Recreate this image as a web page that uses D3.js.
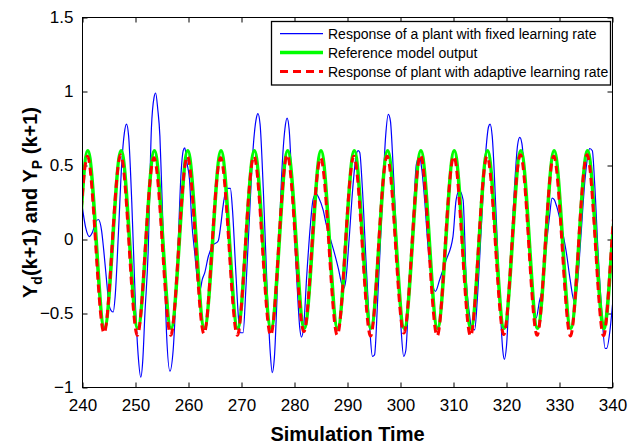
<!DOCTYPE html>
<html>
<head>
<meta charset="utf-8">
<script src="https://cdn.jsdelivr.net/npm/d3@7"></script>
<style>
  body { margin: 0; background: #fff; }
  text { font-family: "Liberation Sans", Arial, Helvetica, sans-serif; }
</style>
</head>
<body>
<div id="chart"></div>
<script>
// tick values
var xTicks = [240, 250, 260, 270, 280, 290, 300, 310, 320, 330, 340];
var yTicks = [-1, -0.5, 0, 0.5, 1, 1.5];

// reference model output (read at peaks, troughs and zero crossings)
var refTime = [239.43,
  241.00, 242.57, 244.14, 245.71,
  247.29, 248.86, 250.43, 252.00,
  253.57, 255.14, 256.71, 258.28,
  259.86, 261.43, 263.00, 264.57,
  266.14, 267.71, 269.28, 270.85,
  272.43, 274.00, 275.57, 277.14,
  278.71, 280.28, 281.85, 283.42,
  285.00, 286.57, 288.14, 289.71,
  291.28, 292.85, 294.42, 295.99,
  297.57, 299.14, 300.71, 302.28,
  303.85, 305.42, 306.99, 308.56,
  310.14, 311.71, 313.28, 314.85,
  316.42, 317.99, 319.56, 321.13,
  322.71, 324.28, 325.85, 327.42,
  328.99, 330.56, 332.13, 333.70,
  335.28, 336.85, 338.42, 339.99,
  341.56];
var refValue = [0,
  0.6, 0, -0.6, 0,
  0.6, 0, -0.6, 0,
  0.6, 0, -0.6, 0,
  0.6, 0, -0.6, 0,
  0.6, 0, -0.6, 0,
  0.6, 0, -0.6, 0,
  0.6, 0, -0.6, 0,
  0.6, 0, -0.6, 0,
  0.6, 0, -0.6, 0,
  0.6, 0, -0.6, 0,
  0.6, 0, -0.6, 0,
  0.6, 0, -0.6, 0,
  0.6, 0, -0.6, 0,
  0.6, 0, -0.6, 0,
  0.6, 0, -0.6, 0,
  0.6, 0, -0.6, 0,
  0.6];

// plant with adaptive learning rate (same time points)
var adaptiveValue = [0.03,
  0.56, -0.08, -0.63, 0.03,
  0.57, -0.08, -0.645, 0.03,
  0.55, -0.08, -0.645, 0.03,
  0.56, -0.08, -0.635, 0.03,
  0.55, -0.08, -0.645, 0.03,
  0.56, -0.08, -0.645, 0.03,
  0.57, -0.08, -0.62, 0.03,
  0.55, -0.08, -0.645, 0.03,
  0.56, -0.08, -0.65, 0.03,
  0.56, -0.08, -0.63, 0.03,
  0.57, -0.08, -0.65, 0.03,
  0.56, -0.08, -0.65, 0.03,
  0.56, -0.08, -0.64, 0.03,
  0.57, -0.08, -0.645, 0.03,
  0.56, -0.08, -0.65, 0.03,
  0.57, -0.08, -0.645, 0.05,
  0.57];

// plant with fixed learning rate
var fixedTime = [240.0, 240.6, 241.3, 241.9, 242.5, 243.0, 243.6, 244.0, 244.6, 245.0,
  245.4, 245.8, 246.15, 246.8, 247.4, 247.9, 248.3, 248.7, 249.3, 250.0,
  250.5, 251.0, 251.4, 251.75, 252.4, 253.0, 253.5, 253.8, 254.2, 254.6,
  254.9, 255.4, 255.85, 256.5, 257.1, 258.0, 258.6, 259.0, 259.3, 259.7,
  260.2, 260.6, 261.2, 261.7, 262.1, 262.6, 263.1, 263.7, 264.6, 265.6,
  266.1, 266.5, 267.2, 267.9, 268.3, 268.9, 269.5, 269.8, 270.3, 270.8,
  271.5, 272.2, 272.8, 273.1, 273.5, 274.1, 274.8, 275.4, 275.8, 276.2,
  276.9, 277.6, 278.2, 278.6, 279.0, 279.6, 280.4, 281.0, 281.3, 281.7,
  282.3, 283.0, 283.5, 284.1, 284.6, 285.4, 286.0, 286.8, 287.6, 288.3,
  288.9, 289.3, 289.7, 290.3, 291.0, 291.6, 292.0, 292.3, 292.8, 293.5,
  294.2, 294.7, 295.1, 295.7, 296.5, 297.2, 297.7, 298.1, 298.6, 299.4,
  300.1, 300.6, 301.0, 301.6, 302.4, 303.0, 303.6, 304.0, 304.55, 305.2,
  305.8, 306.6, 307.4, 308.6, 309.9, 310.5, 311.1, 311.8, 312.4, 313.0,
  313.4, 314.0, 314.5, 315.2, 316.0, 316.6, 316.9, 317.3, 318.0, 318.8,
  319.3, 319.6, 320.0, 320.7, 321.5, 322.1, 322.5, 322.9, 323.7, 324.4,
  325.0, 325.6, 326.2, 326.9, 327.5, 328.1, 328.6, 329.0, 329.5, 330.0,
  330.7, 331.3, 332.0, 332.8, 333.3, 334.0, 334.8, 335.4, 335.7, 336.2,
  336.6, 337.3, 338.0, 338.6, 338.9, 339.6, 340.0];
var fixedValue = [0.21, 0.08, 0.02, 0.05, 0.12, 0.135, 0.06, -0.07, -0.30, -0.44,
  -0.48, -0.49, -0.39, 0.06, 0.51, 0.72, 0.78, 0.70, 0.25, -0.45,
  -0.78, -0.93, -0.80, -0.52, -0.07, 0.75, 0.96, 0.99, 0.88, 0.70,
  0.40, -0.15, -0.63, -0.89, -0.75, -0.07, 0.45, 0.60, 0.62, 0.52,
  0.40, 0.13, -0.10, -0.28, -0.35, -0.27, -0.22, -0.12, -0.04, -0.01,
  0.10, 0.22, 0.345, 0.345, 0.20, -0.20, -0.56, -0.63, -0.63, -0.35,
  0.15, 0.62, 0.82, 0.85, 0.78, 0.35, -0.30, -0.75, -0.90, -0.80,
  -0.20, 0.45, 0.75, 0.82, 0.74, 0.30, -0.25, -0.60, -0.66, -0.60,
  -0.25, 0.10, 0.27, 0.31, 0.28, 0.20, 0.10, 0.00, -0.10, -0.20,
  -0.30, -0.33, -0.27, 0.00, 0.35, 0.56, 0.60, 0.59, 0.35, -0.15,
  -0.60, -0.79, -0.78, -0.40, 0.20, 0.70, 0.845, 0.80, 0.50, -0.10,
  -0.60, -0.79, -0.75, -0.35, 0.15, 0.51, 0.56, 0.48, 0.27, -0.05,
  -0.25, -0.35, -0.27, -0.14, 0.02, 0.27, 0.33, 0.27, -0.27, -0.50,
  -0.60, -0.61, -0.40, 0.05, 0.55, 0.76, 0.78, 0.70, 0.20, -0.45,
  -0.75, -0.81, -0.72, -0.20, 0.35, 0.64, 0.69, 0.65, 0.27, -0.10,
  -0.41, -0.53, -0.42, -0.30, -0.05, 0.15, 0.28, 0.27, 0.22, 0.15,
  0.03, -0.09, -0.27, -0.42, -0.33, 0.00, 0.40, 0.58, 0.615, 0.60,
  0.40, -0.10, -0.50, -0.735, -0.735, -0.59, -0.44];

var legendLabels = [
  "Response of a plant with fixed learning rate",
  "Reference model output",
  "Response of plant with adaptive learning rate"
];

var svgWidth = 629;
var svgHeight = 447;
var font = "'Liberation Sans', Arial, Helvetica, sans-serif";

var svg = d3.select("#chart")
  .append("svg")
  .attr("width", svgWidth)
  .attr("height", svgHeight);

var x = d3.scaleLinear().domain([240, 340]).range([82.5, 612.5]);
var y = d3.scaleLinear().domain([-1, 1.5]).range([387.5, 17.5]);

// clip so the curves stop at the axes box
svg.append("defs").append("clipPath")
  .attr("id", "plotClip")
  .append("rect")
  .attr("x", x(240))
  .attr("y", y(1.5))
  .attr("width", x(340) - x(240))
  .attr("height", y(-1) - y(1.5));

// axes, ticks pointing inwards on all four sides
var bottomAxis = svg.append("g")
  .attr("transform", `translate(0, ${y(-1)})`)
  .call(d3.axisBottom(x).tickValues(xTicks).tickSize(-5).tickPadding(11).tickFormat(d3.format("d")));

var topAxis = svg.append("g")
  .attr("transform", `translate(0, ${y(1.5)})`)
  .call(d3.axisTop(x).tickValues(xTicks).tickSize(-5).tickFormat(""));

var leftAxis = svg.append("g")
  .attr("transform", `translate(${x(240)}, 0)`)
  .call(d3.axisLeft(y).tickValues(yTicks).tickSize(-5).tickPadding(9).tickFormat(d3.format("~g")));

var rightAxis = svg.append("g")
  .attr("transform", `translate(${x(340)}, 0)`)
  .call(d3.axisRight(y).tickValues(yTicks).tickSize(-5).tickFormat(""));

[bottomAxis, topAxis, leftAxis, rightAxis].forEach(function (g) {
  g.select(".domain").remove();
  g.selectAll("line").attr("stroke", "#000");
  g.selectAll("text")
    .attr("font-family", font)
    .attr("font-size", 17)
    .attr("fill", "#000");
});

var plot = svg.append("g").attr("clip-path", "url(#plotClip)");

var line = d3.line()
  .x(d => x(d[0]))
  .y(d => y(d[1]));

// fixed learning rate response (drawn first, MATLAB order)
plot.append("path")
  .datum(d3.zip(fixedTime, fixedValue))
  .attr("fill", "none")
  .attr("stroke", "#0000ff")
  .attr("stroke-width", 1.2)
  .attr("d", line.curve(d3.curveMonotoneX));

// reference model output
plot.append("path")
  .datum(d3.zip(refTime, refValue))
  .attr("fill", "none")
  .attr("stroke", "#00ff00")
  .attr("stroke-width", 3.6)
  .attr("d", line.curve(d3.curveNatural));

// adaptive learning rate response
plot.append("path")
  .datum(d3.zip(refTime, adaptiveValue))
  .attr("fill", "none")
  .attr("stroke", "#ff0000")
  .attr("stroke-width", 3)
  .attr("stroke-dasharray", "8,5")
  .attr("d", line.curve(d3.curveNatural));

// axes box
svg.append("rect")
  .attr("x", x(240))
  .attr("y", y(1.5))
  .attr("width", x(340) - x(240))
  .attr("height", y(-1) - y(1.5))
  .attr("fill", "none")
  .attr("stroke", "#000")
  .attr("stroke-width", 1);

// axis labels
svg.append("text")
  .attr("x", (x(240) + x(340)) / 2)
  .attr("y", 441)
  .attr("text-anchor", "middle")
  .attr("font-family", font)
  .attr("font-size", 20)
  .attr("font-weight", "bold")
  .text("Simulation Time");

var yLabel = svg.append("text")
  .attr("transform", `translate(37, ${(y(1.5) + y(-1)) / 2}) rotate(-90)`)
  .attr("text-anchor", "middle")
  .attr("font-family", font)
  .attr("font-size", 20)
  .attr("font-weight", "bold");
yLabel.append("tspan").text("Y");
yLabel.append("tspan").attr("font-size", 14).attr("dy", 5).text("d");
yLabel.append("tspan").attr("dy", -5).text("(k+1) and Y");
yLabel.append("tspan").attr("font-size", 14).attr("dy", 5).text("P");
yLabel.append("tspan").attr("dy", -5).text(" (k+1)");

// legend
var legend = svg.append("g");
legend.append("rect")
  .attr("x", 271.5)
  .attr("y", 21.5)
  .attr("width", 339)
  .attr("height", 63.5)
  .attr("fill", "#fff")
  .attr("stroke", "#000")
  .attr("stroke-width", 1.3);

var legendStyles = [
  { color: "#0000ff", width: 1.2, dash: null },
  { color: "#00ff00", width: 3.6, dash: null },
  { color: "#ff0000", width: 3, dash: "8,5" }
];
var legendRows = [33.7, 52.5, 71.5];

legendLabels.forEach(function (label, i) {
  legend.append("line")
    .attr("x1", 280)
    .attr("x2", 323)
    .attr("y1", legendRows[i])
    .attr("y2", legendRows[i])
    .attr("stroke", legendStyles[i].color)
    .attr("stroke-width", legendStyles[i].width)
    .attr("stroke-dasharray", legendStyles[i].dash);
  legend.append("text")
    .attr("x", 328)
    .attr("y", legendRows[i] + 5)
    .attr("font-family", font)
    .attr("font-size", 14)
    .text(label);
});
</script>
</body>
</html>
